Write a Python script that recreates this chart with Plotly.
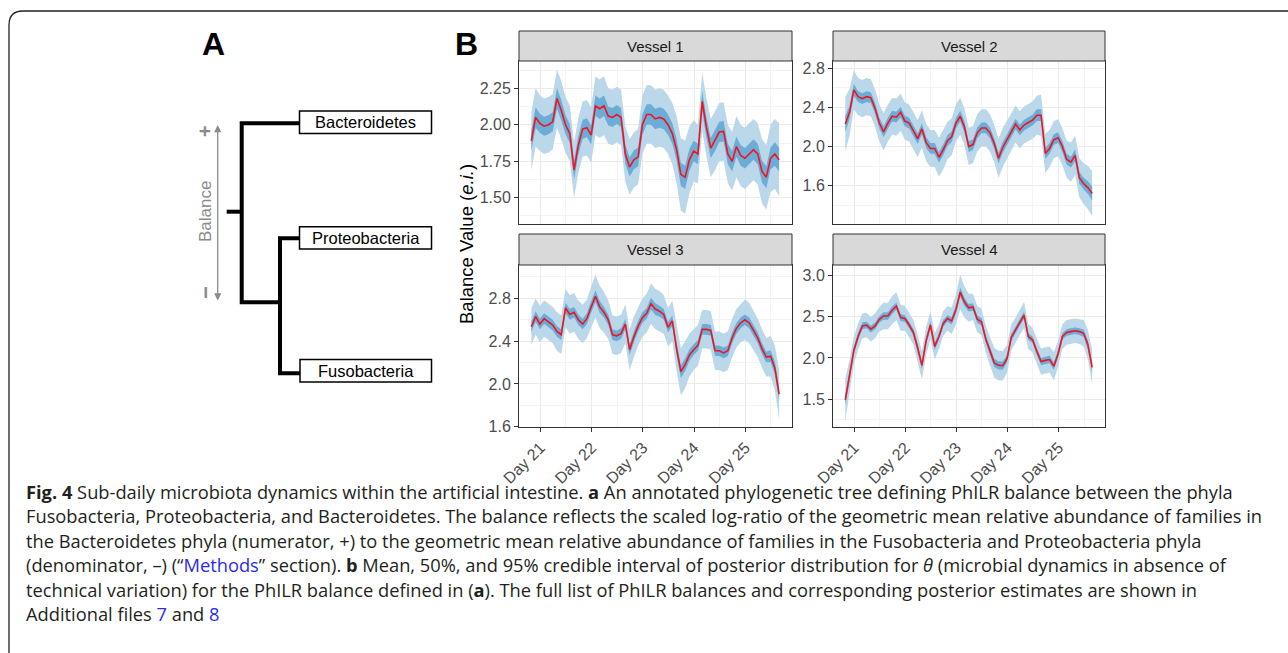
import plotly.graph_objects as go

W, H = 1288, 653
def px(x): return x / W
def py(y): return 1 - y / H

# ---------------- data ----------------
hours = list(range(0, 118, 2))           # sampling offset in hours from first sample
start_day = 20.825
day_ticks = [21, 22, 23, 24, 25]
day_labels = ["Day 21", "Day 22", "Day 23", "Day 24", "Day 25"]
vessel_names = ["Vessel 1", "Vessel 2", "Vessel 3", "Vessel 4"]

v1_mean = [1.89, 2.05, 2.01, 1.99, 2.00, 2.02, 2.18, 2.10, 2.00, 1.94,
           1.69, 1.86, 1.97, 1.98, 1.93, 2.13, 2.11, 2.13, 2.06, 2.05,
           2.07, 2.05, 1.80, 1.71, 1.76, 1.78, 2.00, 2.07, 2.07, 2.04,
           2.05, 2.04, 2.00, 1.94, 1.83, 1.66, 1.64, 1.76, 1.82, 1.80,
           2.16, 1.98, 1.84, 1.89, 1.95, 1.955, 1.80, 1.75, 1.85, 1.79,
           1.77, 1.80, 1.83, 1.80, 1.68, 1.64, 1.77, 1.80, 1.76]
v1_w95 = [0.20, 0.20, 0.19, 0.19, 0.19, 0.19, 0.20, 0.20, 0.19, 0.19,
          0.19, 0.19, 0.19, 0.19, 0.19, 0.20, 0.20, 0.20, 0.19, 0.19,
          0.19, 0.19, 0.19, 0.19, 0.19, 0.19, 0.20, 0.20, 0.20, 0.20,
          0.20, 0.20, 0.20, 0.21, 0.23, 0.25, 0.25, 0.23, 0.21, 0.20,
          0.20, 0.20, 0.20, 0.20, 0.20, 0.20, 0.20, 0.20, 0.21, 0.21,
          0.21, 0.21, 0.21, 0.21, 0.22, 0.22, 0.23, 0.24, 0.25]
v1_w50 = [0.07, 0.07, 0.065, 0.065, 0.065, 0.065, 0.07, 0.07, 0.065, 0.065,
          0.065, 0.065, 0.065, 0.065, 0.065, 0.07, 0.07, 0.07, 0.065, 0.065,
          0.065, 0.065, 0.065, 0.065, 0.065, 0.065, 0.07, 0.07, 0.07, 0.07,
          0.07, 0.07, 0.07, 0.07, 0.075, 0.08, 0.08, 0.075, 0.07, 0.07,
          0.07, 0.07, 0.07, 0.07, 0.07, 0.07, 0.07, 0.07, 0.07, 0.07,
          0.07, 0.07, 0.07, 0.07, 0.075, 0.075, 0.075, 0.08, 0.08]

v2_mean = [2.23, 2.35, 2.58, 2.51, 2.49, 2.51, 2.50, 2.39, 2.24, 2.15,
           2.24, 2.31, 2.30, 2.35, 2.26, 2.24, 2.16, 2.08, 2.18, 2.04,
           1.98, 1.98, 1.89, 1.965, 2.06, 2.10, 2.24, 2.31, 2.20, 2.00,
           2.02, 2.14, 2.19, 2.19, 2.14, 2.03, 1.88, 1.99, 2.07, 2.15,
           2.23, 2.17, 2.22, 2.245, 2.27, 2.32, 2.32, 1.93, 1.98, 2.07,
           2.09, 2.00, 1.87, 1.84, 1.91, 1.68, 1.62, 1.58, 1.52]
v2_w95 = [0.28, 0.24, 0.20, 0.19, 0.19, 0.19, 0.19, 0.19, 0.19, 0.19,
          0.19, 0.19, 0.19, 0.19, 0.19, 0.19, 0.19, 0.19, 0.19, 0.19,
          0.19, 0.19, 0.20, 0.20, 0.19, 0.19, 0.19, 0.19, 0.19, 0.19,
          0.19, 0.19, 0.19, 0.19, 0.19, 0.19, 0.20, 0.20, 0.19, 0.19,
          0.19, 0.19, 0.19, 0.19, 0.19, 0.20, 0.21, 0.20, 0.19, 0.19,
          0.19, 0.19, 0.19, 0.20, 0.20, 0.20, 0.21, 0.22, 0.23]
v2_w50 = [0.08, 0.07, 0.06, 0.055, 0.055, 0.055, 0.055, 0.055, 0.055, 0.055,
          0.055, 0.055, 0.055, 0.055, 0.055, 0.055, 0.055, 0.055, 0.055, 0.055,
          0.055, 0.055, 0.055, 0.055, 0.055, 0.055, 0.055, 0.055, 0.055, 0.055,
          0.055, 0.055, 0.055, 0.055, 0.055, 0.055, 0.055, 0.055, 0.055, 0.055,
          0.055, 0.055, 0.055, 0.055, 0.055, 0.06, 0.06, 0.055, 0.055, 0.055,
          0.055, 0.055, 0.055, 0.055, 0.06, 0.06, 0.06, 0.065, 0.07]

v3_mean = [2.535, 2.63, 2.56, 2.61, 2.58, 2.55, 2.49, 2.46, 2.71, 2.65,
           2.67, 2.60, 2.56, 2.61, 2.72, 2.82, 2.72, 2.67, 2.60, 2.46,
           2.45, 2.47, 2.56, 2.32, 2.44, 2.54, 2.62, 2.66, 2.75, 2.70,
           2.68, 2.65, 2.53, 2.59, 2.33, 2.115, 2.18, 2.27, 2.32, 2.36,
           2.51, 2.51, 2.50, 2.31, 2.31, 2.29, 2.31, 2.43, 2.52, 2.57,
           2.60, 2.57, 2.50, 2.43, 2.33, 2.25, 2.26, 2.15, 1.905]
v3_w95 = [0.17, 0.17, 0.17, 0.17, 0.17, 0.17, 0.18, 0.18, 0.18, 0.18,
          0.18, 0.18, 0.18, 0.18, 0.19, 0.20, 0.20, 0.19, 0.18, 0.18,
          0.18, 0.18, 0.18, 0.19, 0.19, 0.18, 0.18, 0.18, 0.19, 0.19,
          0.19, 0.18, 0.18, 0.19, 0.21, 0.22, 0.22, 0.20, 0.19, 0.19,
          0.18, 0.18, 0.18, 0.18, 0.18, 0.18, 0.18, 0.18, 0.18, 0.18,
          0.19, 0.19, 0.18, 0.18, 0.18, 0.18, 0.19, 0.21, 0.23]
v3_w50 = [0.05, 0.05, 0.05, 0.05, 0.05, 0.05, 0.05, 0.05, 0.05, 0.05,
          0.05, 0.05, 0.05, 0.05, 0.055, 0.055, 0.055, 0.05, 0.05, 0.05,
          0.05, 0.05, 0.05, 0.05, 0.05, 0.05, 0.05, 0.05, 0.055, 0.055,
          0.05, 0.05, 0.05, 0.05, 0.06, 0.06, 0.06, 0.055, 0.05, 0.05,
          0.05, 0.05, 0.05, 0.05, 0.05, 0.05, 0.05, 0.05, 0.05, 0.05,
          0.05, 0.05, 0.05, 0.05, 0.05, 0.05, 0.055, 0.06, 0.065]

v4_mean = [1.49, 1.78, 2.09, 2.26, 2.39, 2.40, 2.35, 2.39, 2.47, 2.51,
           2.51, 2.58, 2.63, 2.49, 2.48, 2.40, 2.31, 2.12, 1.91, 2.21,
           2.40, 2.14, 2.26, 2.42, 2.48, 2.45, 2.59, 2.80, 2.68, 2.61,
           2.62, 2.47, 2.44, 2.23, 2.08, 1.94, 1.91, 1.905, 1.99, 2.25,
           2.34, 2.43, 2.52, 2.26, 2.22, 2.08, 1.955, 1.97, 1.98, 1.90,
           2.05, 2.26, 2.31, 2.32, 2.33, 2.32, 2.30, 2.16, 1.885]
v4_w95 = [0.26, 0.20, 0.17, 0.16, 0.15, 0.15, 0.15, 0.15, 0.15, 0.16,
          0.16, 0.17, 0.17, 0.16, 0.15, 0.15, 0.15, 0.16, 0.17, 0.17,
          0.17, 0.16, 0.15, 0.15, 0.15, 0.16, 0.18, 0.21, 0.19, 0.17,
          0.16, 0.16, 0.16, 0.16, 0.17, 0.18, 0.18, 0.18, 0.17, 0.16,
          0.15, 0.15, 0.16, 0.15, 0.15, 0.15, 0.16, 0.16, 0.16, 0.17,
          0.16, 0.15, 0.15, 0.15, 0.15, 0.15, 0.16, 0.18, 0.21]
v4_w50 = [0.07, 0.055, 0.045, 0.045, 0.04, 0.04, 0.04, 0.04, 0.04, 0.045,
          0.045, 0.045, 0.045, 0.045, 0.04, 0.04, 0.04, 0.045, 0.045, 0.045,
          0.045, 0.045, 0.04, 0.04, 0.04, 0.045, 0.05, 0.055, 0.05, 0.045,
          0.045, 0.045, 0.045, 0.045, 0.045, 0.05, 0.05, 0.05, 0.045, 0.045,
          0.04, 0.04, 0.045, 0.04, 0.04, 0.04, 0.045, 0.045, 0.045, 0.045,
          0.045, 0.04, 0.04, 0.04, 0.04, 0.04, 0.045, 0.05, 0.06]

# y axis settings per vessel (range, tick step, tick start, format)
y_ranges = [[1.32, 2.437], [1.207, 2.875], [1.597, 3.112], [1.16, 3.13]]
y_dtick = [0.25, 0.4, 0.4, 0.5]
y_tick0 = [1.5, 1.6, 1.6, 1.5]
y_fmt = [".2f", ".1f", ".1f", ".1f"]
x_range = [20.584, 25.91]
x_minor = [20.5, 21.5, 22.5, 23.5, 24.5, 25.5]

# ---------------- styling / layout positions ----------------
FB = "Liberation Sans, Arial, Helvetica, sans-serif"
FC = "Open Sans, Noto Sans, sans-serif"
C_LIGHT = "#bbd7ea"
C_DARK = "#6cadd8"
C_RED = "#f0141e"

panel_px = [(519, 792, 61, 224, 31), (833, 1105, 61, 224, 31),
            (519, 792, 265, 427, 234), (833, 1105, 265, 427, 234)]

means = [v1_mean, v2_mean, v3_mean, v4_mean]
w95s = [v1_w95, v2_w95, v3_w95, v4_w95]
w50s = [v1_w50, v2_w50, v3_w50, v4_w50]

days = [start_day + h / 24 for h in hours]

fig = go.Figure()
layout = dict(width=W, height=H, margin=dict(l=0, r=0, t=0, b=0),
              paper_bgcolor="white", plot_bgcolor="white", showlegend=False)
shapes = []
annotations = []

for i in range(4):
    n = "" if i == 0 else str(i + 1)
    m, a, b = means[i], w95s[i], w50s[i]
    hi95 = [mm + ww for mm, ww in zip(m, a)]
    lo95 = [mm - ww for mm, ww in zip(m, a)]
    hi50 = [mm + ww for mm, ww in zip(m, b)]
    lo50 = [mm - ww for mm, ww in zip(m, b)]
    xs = days + days[::-1]
    fig.add_trace(go.Scatter(x=xs, y=hi95 + lo95[::-1], fill="toself", fillcolor=C_LIGHT,
                             line=dict(width=0), mode="lines", xaxis="x" + n, yaxis="y" + n,
                             hoverinfo="skip"))
    fig.add_trace(go.Scatter(x=xs, y=hi50 + lo50[::-1], fill="toself", fillcolor=C_DARK,
                             line=dict(width=0), mode="lines", xaxis="x" + n, yaxis="y" + n,
                             hoverinfo="skip"))
    fig.add_trace(go.Scatter(x=days, y=m, mode="lines", line=dict(color=C_RED, width=1.6),
                             xaxis="x" + n, yaxis="y" + n))

    l, r, t, btm, st = panel_px[i]
    bottom_row = i >= 2
    layout["xaxis" + n] = dict(
        domain=[px(l), px(r)], range=x_range, anchor="y" + n,
        tickmode="array", tickvals=day_ticks, ticktext=day_labels,
        showticklabels=bottom_row, ticks="outside" if bottom_row else "",
        ticklen=4, tickwidth=1, tickcolor="#333333", tickangle=-45,
        tickfont=dict(family=FB, size=16, color="#4d4d4d"),
        showgrid=True, gridcolor="#ebebeb", gridwidth=1.2,
        minor=dict(tickvals=x_minor, showgrid=True, gridcolor="#f3f3f3", gridwidth=0.7, ticks=""),
        showline=True, mirror=True, linecolor="#333333", linewidth=1,
        zeroline=False, automargin=False, fixedrange=True)
    layout["yaxis" + n] = dict(
        domain=[py(btm), py(t)], range=y_ranges[i], anchor="x" + n,
        tickmode="linear", tick0=y_tick0[i], dtick=y_dtick[i], tickformat=y_fmt[i],
        ticks="outside", ticklen=4, tickwidth=1, tickcolor="#333333",
        tickfont=dict(family=FB, size=16, color="#4d4d4d"),
        showgrid=True, gridcolor="#ebebeb", gridwidth=1.2,
        minor=dict(tick0=y_tick0[i] - y_dtick[i] / 2, dtick=y_dtick[i], showgrid=True,
                   gridcolor="#f3f3f3", gridwidth=0.7, ticks=""),
        showline=True, mirror=True, linecolor="#333333", linewidth=1,
        zeroline=False, automargin=False, fixedrange=True)

    # facet strip
    shapes.append(dict(type="rect", xref="paper", yref="paper", x0=px(l), x1=px(r),
                       y0=py(t), y1=py(st), fillcolor="#d9d9d9",
                       line=dict(color="#333333", width=1), layer="above"))
    annotations.append(dict(text=vessel_names[i], xref="paper", yref="paper",
                            x=px((l + r) / 2), y=py((t + st) / 2), showarrow=False,
                            xanchor="center", yanchor="middle",
                            font=dict(family=FB, size=15, color="#1a1a1a")))

# y-axis title
annotations.append(dict(text="Balance Value (<i>e.i.</i>)", xref="paper", yref="paper",
                        x=px(466), y=py(244), textangle=-90, showarrow=False,
                        xanchor="center", yanchor="middle",
                        font=dict(family=FB, size=18.5, color="black")))

# panel letters
annotations.append(dict(text="<b>A</b>", xref="paper", yref="paper", x=px(213), y=py(44),
                        showarrow=False, xanchor="center", yanchor="middle",
                        font=dict(family=FB, size=32, color="black")))
annotations.append(dict(text="<b>B</b>", xref="paper", yref="paper", x=px(467), y=py(44),
                        showarrow=False, xanchor="center", yanchor="middle",
                        font=dict(family=FB, size=32, color="black")))

# ---------------- panel A: tree ----------------
def P(pts):
    s = ""
    for k, (x, y) in enumerate(pts):
        s += ("M" if k == 0 else "L") + f"{px(x)},{py(y)} "
    return s.strip()

tree_paths = [
    [(300, 123.3), (241.7, 123.3), (241.7, 302.3), (280, 302.3)],
    [(226.7, 211.7), (241.7, 211.7)],
    [(300, 238.3), (280, 238.3), (280, 373.3), (300, 373.3)],
]
for pts in tree_paths:
    shapes.append(dict(type="path", xref="paper", yref="paper", path=P(pts),
                       line=dict(color="black", width=4)))

tip_names = ["Bacteroidetes", "Proteobacteria", "Fusobacteria"]
tip_boxes = [(299.5, 431.5, 111, 133.5), (299.5, 431.5, 226.7, 249), (300, 431.5, 359.5, 382)]
for name, (x0, x1, y0, y1) in zip(tip_names, tip_boxes):
    shapes.append(dict(type="rect", xref="paper", yref="paper", x0=px(x0), x1=px(x1),
                       y0=py(y1), y1=py(y0), fillcolor="white",
                       line=dict(color="black", width=1.5)))
    annotations.append(dict(text=name, xref="paper", yref="paper", x=px((x0 + x1) / 2),
                            y=py((y0 + y1) / 2), showarrow=False, xanchor="center",
                            yanchor="middle", font=dict(family=FB, size=16.5, color="black")))

# balance arrow
annotations.append(dict(text="", xref="paper", yref="paper", x=px(217.7), y=py(125),
                        ax=0, ay=177, axref="pixel", ayref="pixel", showarrow=True,
                        arrowhead=2, arrowside="end+start", arrowsize=1.1, arrowwidth=1.3,
                        arrowcolor="#8a8a8a", standoff=0, startstandoff=0))
annotations.append(dict(text="Balance", xref="paper", yref="paper", x=px(205), y=py(212),
                        textangle=-90, showarrow=False, xanchor="center", yanchor="middle",
                        font=dict(family=FB, size=17, color="#8a8a8a")))
annotations.append(dict(text="<b>+</b>", xref="paper", yref="paper", x=px(205), y=py(131),
                        textangle=-90, showarrow=False, xanchor="center", yanchor="middle",
                        font=dict(family=FB, size=20, color="#8a8a8a")))
annotations.append(dict(text="<b>\u2212</b>", xref="paper", yref="paper", x=px(205), y=py(293),
                        textangle=-90, showarrow=False, xanchor="center", yanchor="middle",
                        font=dict(family=FB, size=22, color="#8a8a8a")))

# ---------------- caption ----------------
BL = "color:#2b2bf0"
caption_lines = [
    "<b>Fig. 4</b> Sub-daily microbiota dynamics within the artificial intestine. <b>a</b> An annotated phylogenetic tree defining PhILR balance between the phyla",
    "Fusobacteria, Proteobacteria, and Bacteroidetes. The balance reflects the scaled log-ratio of the geometric mean relative abundance of families in",
    "the Bacteroidetes phyla (numerator, +) to the geometric mean relative abundance of families in the Fusobacteria and Proteobacteria phyla",
    f"(denominator, \u2013) (\u201c<span style='{BL}'>Methods</span>\u201d section). <b>b</b> Mean, 50%, and 95% credible interval of posterior distribution for <i>\u03b8</i> (microbial dynamics in absence of",
    "technical variation) for the PhILR balance defined in (<b>a</b>). The full list of PhILR balances and corresponding posterior estimates are shown in",
    f"Additional files <span style='{BL}'>7</span> and <span style='{BL}'>8</span>",
]
caption_y = [491, 515.5, 540, 564.5, 589, 613.5]
for txt, yy in zip(caption_lines, caption_y):
    annotations.append(dict(text=txt, xref="paper", yref="paper", x=px(24), y=py(yy),
                            showarrow=False, xanchor="left", yanchor="middle", align="left",
                            font=dict(family=FC, size=18.3, color="#231f20")))

# outer rounded frame
frame = (f"M{px(9)},{py(700)} L{px(9)},{py(25)} Q{px(9)},{py(11)} {px(23)},{py(11)} "
         f"L{px(1320)},{py(11)}")
shapes.append(dict(type="path", xref="paper", yref="paper", path=frame,
                   line=dict(color="#231f20", width=1.3)))

layout["shapes"] = shapes
layout["annotations"] = annotations
fig.update_layout(**layout)
fig.write_html("out.html")
